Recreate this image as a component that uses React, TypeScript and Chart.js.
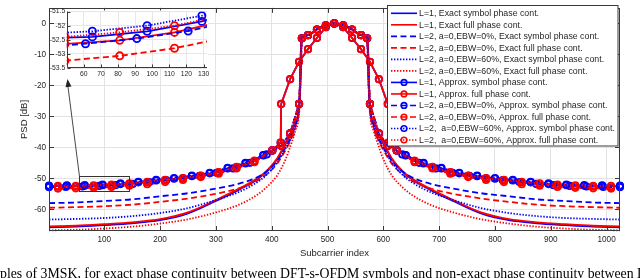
import React, { useEffect, useRef } from "react";
import { Chart, registerables } from "chart.js";

Chart.register(...registerables);
Chart.defaults.font.family = '"Liberation Sans", Arial, sans-serif';

const X_TICKS = [100, 200, 300, 400, 500, 600, 700, 800, 900, 1000];
const Y_TICKS = [-60, -50, -40, -30, -20, -10, 0];
const INSET_X_TICKS = [60, 70, 80, 90, 100, 110, 120, 130];
const INSET_Y_TICKS = [-53.5, -53, -52.5, -52, -51.5];

const LABELS = [
  "L=1, Exact symbol phase cont.",
  "L=1, Exact full phase cont.",
  "L=2, a=0,EBW=0%, Exact symbol phase cont.",
  "L=2, a=0,EBW=0%, Exact full phase cont.",
  "L=2, a=0,EBW=60%, Exact symbol phase cont.",
  "L=2, a=0,EBW=60%, Exact full phase cont.",
  "L=1, Approx. symbol phase cont.",
  "L=1, Approx. full phase cont.",
  "L=2, a=0,EBW=0%, Approx. symbol phase cont.",
  "L=2, a=0,EBW=0%, Approx. full phase cont.",
  "L=2,  a=0,EBW=60%, Approx. symbol phase cont.",
  "L=2,  a=0,EBW=60%, Approx. full phase cont.",
];

const CAPTION =
  "ples of 3MSK, for exact phase continuity between DFT-s-OFDM symbols and non-exact phase continuity between DFT-s-OFDM";

// ---------- exact curves (no markers) ----------
const EXACT_X = [
  1, 50, 100, 150, 200, 250, 300, 340, 370, 390, 410, 425, 435, 443, 448, 451,
  453, 465, 480, 495, 512, 530, 545, 560, 572,
  574, 577, 582, 590, 600, 615, 635, 655, 685, 725, 775, 825, 875, 925, 975, 1024,
];
const L1_SYM_EXACT = [
  -65.8, -65.6, -65.1, -64.5, -63.5, -61.3, -57.3, -53.8, -50.8, -48.0, -43.8, -38.8, -35.3, -31.5, -28.7, -20.5,
  -4.6, -3.8, -2.0, -0.6, 0, -0.6, -2.0, -3.8, -4.6,
  -20.5, -28.7, -31.5, -35.3, -38.8, -43.8, -48.0, -50.8, -53.8, -57.3, -61.3, -63.5, -64.5, -65.1, -65.6, -65.8,
];
const L1_FULL_EXACT = [
  -65.5, -65.3, -64.8, -64.2, -63.2, -61.0, -57.0, -53.5, -50.5, -47.8, -43.5, -38.5, -35.0, -31.2, -28.5, -20.0,
  -4.6, -3.8, -2.0, -0.6, 0, -0.6, -2.0, -3.8, -4.6,
  -20.0, -28.5, -31.2, -35.0, -38.5, -43.5, -47.8, -50.5, -53.5, -57.0, -61.0, -63.2, -64.2, -64.8, -65.3, -65.5,
];
const L2E0_SYM_EXACT = [
  -58.0, -57.8, -57.3, -56.8, -55.8, -54.8, -53.3, -51.8, -50.0, -47.9, -44.3, -40.0, -36.5, -32.5, -29.0, -21.0,
  -4.6, -3.8, -2.0, -0.6, 0, -0.6, -2.0, -3.8, -4.6,
  -21.0, -29.0, -32.5, -36.5, -40.0, -44.3, -47.9, -50.0, -51.8, -53.3, -54.8, -55.8, -56.8, -57.3, -57.8, -58.0,
];
const L2E0_FULL_EXACT = [
  -59.5, -59.3, -59.0, -58.5, -57.6, -56.5, -55.0, -53.3, -51.2, -48.8, -45.2, -40.8, -37.2, -33.2, -29.7, -21.5,
  -4.6, -3.8, -2.0, -0.6, 0, -0.6, -2.0, -3.8, -4.6,
  -21.5, -29.7, -33.2, -37.2, -40.8, -45.2, -48.8, -51.2, -53.3, -55.0, -56.5, -57.6, -58.5, -59.0, -59.3, -59.5,
];
const L2E60_SYM_EXACT = [
  -63.3, -63.1, -62.8, -62.2, -61.2, -59.6, -57.0, -54.5, -51.7, -49.0, -44.8, -40.3, -36.8, -32.8, -29.3, -21.0,
  -4.6, -3.8, -2.0, -0.6, 0, -0.6, -2.0, -3.8, -4.6,
  -21.0, -29.3, -32.8, -36.8, -40.3, -44.8, -49.0, -51.7, -54.5, -57.0, -59.6, -61.2, -62.2, -62.8, -63.1, -63.3,
];
const L2E60_FULL_EXACT = [
  -66.8, -66.6, -66.2, -65.6, -64.6, -63.2, -61.0, -58.6, -55.8, -53.0, -49.0, -43.8, -38.8, -34.3, -30.8, -22.5,
  -4.6, -3.8, -2.0, -0.6, 0, -0.6, -2.0, -3.8, -4.6,
  -22.5, -30.8, -34.3, -38.8, -43.8, -49.0, -53.0, -55.8, -58.6, -61.0, -63.2, -64.6, -65.6, -66.2, -66.6, -66.8,
];

// ---------- approximate curves (circle markers) ----------
const L1_BLUE_X = [
  1, 33, 65, 97, 129, 161, 193, 225, 257, 289, 321, 353, 385,
  401, 416, 417, 433, 449, 465, 481, 497, 512, 528, 544, 560, 576, 592, 608, 609, 624,
  640, 672, 704, 736, 768, 800, 832, 864, 896, 928, 960, 992, 1024,
];
const L1_SYM_APPROX = [
  -52.5, -52.45, -52.4, -52.2, -51.85, -51.3, -50.7, -50.1, -49.3, -48.4, -46.8, -45.2, -42.6,
  -41.0, -38.5, -26.0, -18.0, -12.4, -8.3, -4.7, -1.2, 0, -1.2, -4.7, -8.3, -12.4, -18.0, -26.0, -38.5, -41.0,
  -42.6, -45.2, -46.8, -48.4, -49.3, -50.1, -50.7, -51.3, -51.85, -52.2, -52.4, -52.45, -52.6,
];
const L1_RED_X = [
  17, 49, 81, 113, 145, 177, 209, 241, 273, 305, 337, 369,
  401, 416, 417, 433, 449, 465, 481, 497, 512, 528, 544, 560, 576, 592, 608, 609, 624,
  656, 688, 720, 752, 784, 816, 848, 880, 912, 944, 976, 1008,
];
const L1_FULL_APPROX = [
  -52.75, -52.65, -52.52, -52.24, -51.8, -51.3, -50.6, -50.0, -49.2, -48.1, -46.4, -44.5,
  -41.0, -38.5, -26.0, -18.0, -12.4, -8.3, -4.7, -1.2, 0, -1.2, -4.7, -8.3, -12.4, -18.0, -26.0, -38.5, -41.0,
  -44.5, -46.4, -48.1, -49.2, -50.0, -50.6, -51.3, -51.8, -52.24, -52.52, -52.7, -52.9,
];
const L2E0_BLUE_X = [
  1, 31, 61, 91, 121, 151, 181, 211, 241, 271, 301, 331, 361, 391,
  417, 433, 449, 454, 465, 481, 497, 512, 528, 544, 560, 571, 576, 592, 608,
  634, 664, 694, 724, 754, 784, 814, 844, 874, 904, 934, 964, 994, 1024,
];
const L2E0_SYM_APPROX = [
  -52.85, -52.8, -52.64, -52.46, -52.19, -51.8, -51.2, -50.6, -50.0, -49.2, -48.2, -46.8, -45.0, -42.3,
  -39.5, -35.5, -26.0, -4.8, -3.8, -2.0, -0.6, 0, -0.6, -2.0, -3.8, -4.8, -26.0, -35.5, -39.5,
  -42.3, -45.0, -46.8, -48.2, -49.2, -50.0, -50.6, -51.2, -51.8, -52.19, -52.46, -52.64, -52.8, -52.85,
];
const L2_RED_X = [
  17, 49, 81, 113, 145, 177, 209, 241, 273, 305, 337, 369,
  401, 417, 433, 449, 454, 465, 481, 497, 512, 528, 544, 560, 571, 576, 592, 608, 624,
  656, 688, 720, 752, 784, 816, 848, 880, 912, 944, 976, 1008,
];
const L2E0_FULL_APPROX = [
  -53.3, -53.24, -53.07, -52.8, -52.4, -51.9, -51.2, -50.5, -49.6, -48.5, -46.8, -44.8,
  -41.0, -39.5, -35.5, -26.0, -4.8, -3.8, -2.0, -0.6, 0, -0.6, -2.0, -3.8, -4.8, -26.0, -35.5, -39.5, -41.0,
  -44.8, -46.8, -48.5, -49.6, -50.5, -51.2, -51.9, -52.4, -52.8, -53.07, -53.24, -53.3,
];
const L2E60_BLUE_X = [
  1, 33, 65, 97, 129, 161, 193, 225, 257, 289, 321, 353, 385,
  401, 417, 433, 449, 454, 465, 481, 497, 512, 528, 544, 560, 571, 576, 592, 608, 624,
  640, 672, 704, 736, 768, 800, 832, 864, 896, 928, 960, 992, 1024,
];
const L2E60_SYM_APPROX = [
  -52.35, -52.3, -52.2, -52.0, -51.65, -51.1, -50.5, -49.9, -49.1, -48.2, -46.6, -45.0, -42.5,
  -41.0, -39.5, -35.5, -26.0, -4.8, -3.8, -2.0, -0.6, 0, -0.6, -2.0, -3.8, -4.8, -26.0, -35.5, -39.5, -41.0,
  -42.5, -45.0, -46.6, -48.2, -49.1, -49.9, -50.5, -51.1, -51.65, -52.0, -52.2, -52.3, -52.35,
];
const L2E60_FULL_APPROX = [
  -52.45, -52.4, -52.24, -52.0, -51.6, -51.1, -50.5, -49.9, -49.1, -48.0, -46.3, -44.3,
  -41.0, -39.5, -35.5, -26.0, -4.8, -3.8, -2.0, -0.6, 0, -0.6, -2.0, -3.8, -4.8, -26.0, -35.5, -39.5, -41.0,
  -44.3, -46.3, -48.0, -49.1, -49.9, -50.5, -51.1, -51.6, -52.0, -52.24, -52.4, -52.45,
];

// zoom rectangle (data coordinates) shown in the main axes
const ZOOM_X = [54, 143];
const ZOOM_Y = [-54.4, -49.4];

const BLUE = "#0000ff";
const RED = "#ff0000";
const SOLID: number[] = [];
const DASHED = [6, 3.5];
const DOTTED = [1.4, 1.6];
const AXIS = "#3a3a3a";
const TEXT = "#262626";

type Series = { xs: number[]; ys: number[]; color: string; dash: number[]; marker: boolean; smooth: boolean };

const SERIES: Series[] = [
  { xs: EXACT_X, ys: L1_SYM_EXACT, color: BLUE, dash: SOLID, marker: false, smooth: true },
  { xs: EXACT_X, ys: L1_FULL_EXACT, color: RED, dash: SOLID, marker: false, smooth: true },
  { xs: EXACT_X, ys: L2E0_SYM_EXACT, color: BLUE, dash: DASHED, marker: false, smooth: true },
  { xs: EXACT_X, ys: L2E0_FULL_EXACT, color: RED, dash: DASHED, marker: false, smooth: true },
  { xs: EXACT_X, ys: L2E60_SYM_EXACT, color: BLUE, dash: DOTTED, marker: false, smooth: true },
  { xs: EXACT_X, ys: L2E60_FULL_EXACT, color: RED, dash: DOTTED, marker: false, smooth: true },
  { xs: L1_BLUE_X, ys: L1_SYM_APPROX, color: BLUE, dash: SOLID, marker: true, smooth: false },
  { xs: L1_RED_X, ys: L1_FULL_APPROX, color: RED, dash: SOLID, marker: true, smooth: false },
  { xs: L2E0_BLUE_X, ys: L2E0_SYM_APPROX, color: BLUE, dash: DASHED, marker: true, smooth: false },
  { xs: L2_RED_X, ys: L2E0_FULL_APPROX, color: RED, dash: DASHED, marker: true, smooth: false },
  { xs: L2E60_BLUE_X, ys: L2E60_SYM_APPROX, color: BLUE, dash: DOTTED, marker: true, smooth: false },
  { xs: L2_RED_X, ys: L2E60_FULL_APPROX, color: RED, dash: DOTTED, marker: true, smooth: false },
];

function makeDatasets(radius: number, width: number, markerWidth: number, clip: any) {
  return SERIES.map((s, i) => ({
    label: LABELS[i],
    data: s.xs.map((x, j) => ({ x, y: s.ys[j] })),
    borderColor: s.color,
    backgroundColor: s.color,
    borderWidth: width,
    borderDash: s.dash,
    pointRadius: s.marker ? radius : 0,
    pointHoverRadius: 0,
    pointStyle: "circle",
    pointBorderColor: s.color,
    pointBackgroundColor: "rgba(0,0,0,0)",
    pointBorderWidth: markerWidth,
    cubicInterpolationMode: s.smooth ? "monotone" : "default",
    tension: 0,
    fill: false,
    order: SERIES.length - i,
    clip,
  }));
}

const mainDecor = {
  id: "mainDecor",
  afterDatasetsDraw(chart: any) {
    const { ctx, chartArea, scales } = chart;
    const { left, right, top, bottom } = chartArea;
    ctx.save();
    ctx.setLineDash([]);
    ctx.strokeStyle = AXIS;
    ctx.lineWidth = 1;
    ctx.strokeRect(Math.round(left) + 0.5, Math.round(top) + 0.5, Math.round(right - left) - 1, Math.round(bottom - top) - 1);
    ctx.beginPath();
    X_TICKS.forEach((v) => {
      const px = Math.round(scales.x.getPixelForValue(v)) + 0.5;
      ctx.moveTo(px, bottom);
      ctx.lineTo(px, bottom - 5);
      ctx.moveTo(px, top);
      ctx.lineTo(px, top + 5);
    });
    Y_TICKS.forEach((v) => {
      const py = Math.round(scales.y.getPixelForValue(v)) + 0.5;
      ctx.moveTo(left, py);
      ctx.lineTo(left + 5, py);
      ctx.moveTo(right, py);
      ctx.lineTo(right - 5, py);
    });
    ctx.stroke();
    // zoom rectangle
    const rx0 = scales.x.getPixelForValue(ZOOM_X[0]);
    const rx1 = scales.x.getPixelForValue(ZOOM_X[1]);
    const ry0 = scales.y.getPixelForValue(ZOOM_Y[1]);
    const ry1 = scales.y.getPixelForValue(ZOOM_Y[0]);
    ctx.strokeStyle = "#333";
    ctx.lineWidth = 1;
    ctx.strokeRect(Math.round(rx0) + 0.5, Math.round(ry0) + 0.5, Math.round(rx1 - rx0), Math.round(ry1 - ry0));
    // arrow to inset
    const tipX = 67.5;
    const tipY = 79;
    const sx = Math.round(rx0) + 0.5;
    const sy = Math.round(ry0) + 0.5;
    ctx.beginPath();
    ctx.lineWidth = 0.9;
    ctx.moveTo(sx, sy);
    ctx.lineTo(tipX, tipY + 4);
    ctx.stroke();
    const ang = Math.atan2(tipY - sy, tipX - sx);
    const L = 8;
    const W = 3;
    const bx = tipX - L * Math.cos(ang);
    const by = tipY - L * Math.sin(ang);
    ctx.beginPath();
    ctx.fillStyle = "#222";
    ctx.moveTo(tipX, tipY);
    ctx.lineTo(bx + W * Math.sin(ang), by - W * Math.cos(ang));
    ctx.lineTo(bx - W * Math.sin(ang), by + W * Math.cos(ang));
    ctx.closePath();
    ctx.fill();
    ctx.restore();
  },
  afterDraw(chart: any) {
    const ctx = chart.ctx;
    const x0 = 387.5;
    const y0 = 5.5;
    const w = 230.5;
    const h = 140.5;
    ctx.save();
    ctx.fillStyle = "#fff";
    ctx.fillRect(x0, y0, w, h);
    ctx.strokeStyle = AXIS;
    ctx.lineWidth = 1;
    ctx.setLineDash([]);
    ctx.strokeRect(x0, y0, w, h);
    ctx.font = '8.8px "Liberation Sans", Arial, sans-serif';
    ctx.textBaseline = "middle";
    ctx.textAlign = "left";
    SERIES.forEach((s, i) => {
      const y = 13.3 + i * 11.52;
      ctx.beginPath();
      ctx.setLineDash(s.dash);
      ctx.strokeStyle = s.color;
      ctx.lineWidth = 1.6;
      ctx.moveTo(391, y);
      ctx.lineTo(417, y);
      ctx.stroke();
      ctx.setLineDash([]);
      if (s.marker) {
        ctx.beginPath();
        ctx.lineWidth = 1.6;
        ctx.arc(404, y, 2.8, 0, Math.PI * 2);
        ctx.stroke();
      }
      ctx.fillStyle = TEXT;
      ctx.fillText(LABELS[i], 419, y + 0.5);
    });
    ctx.restore();
  },
};

const insetDecor = {
  id: "insetDecor",
  beforeDraw(chart: any) {
    const { ctx, chartArea } = chart;
    ctx.save();
    ctx.fillStyle = "#fff";
    ctx.fillRect(chartArea.left, chartArea.top - 1, chartArea.right - chartArea.left + 1, chartArea.bottom - chartArea.top + 1);
    ctx.restore();
  },
  afterDatasetsDraw(chart: any) {
    const { ctx, chartArea, scales } = chart;
    const { left, right, top, bottom } = chartArea;
    ctx.save();
    ctx.setLineDash([]);
    ctx.strokeStyle = AXIS;
    ctx.lineWidth = 1;
    ctx.beginPath();
    const lx = Math.round(left) + 0.5;
    const by = Math.round(bottom) - 0.5;
    ctx.moveTo(lx, top);
    ctx.lineTo(lx, by);
    ctx.lineTo(right, by);
    INSET_X_TICKS.forEach((v) => {
      const px = Math.round(scales.x.getPixelForValue(v)) + 0.5;
      ctx.moveTo(px, by);
      ctx.lineTo(px, by - 3);
    });
    INSET_Y_TICKS.forEach((v) => {
      const py = Math.round(scales.y.getPixelForValue(v)) + 0.5;
      ctx.moveTo(lx, py);
      ctx.lineTo(lx + 3, py);
    });
    ctx.stroke();
    ctx.restore();
  },
};

export default function App() {
  const mainRef = useRef<HTMLCanvasElement | null>(null);
  const insetRef = useRef<HTMLCanvasElement | null>(null);

  useEffect(() => {
    const main = new Chart(mainRef.current as HTMLCanvasElement, {
      type: "line",
      data: { datasets: makeDatasets(3.2, 1.8, 1.8, 4) as any },
      options: {
        responsive: false,
        animation: false,
        events: [],
        layout: { padding: { top: 2, right: 20, left: 0, bottom: 0 } },
        plugins: { legend: { display: false }, tooltip: { enabled: false } },
        scales: {
          x: {
            type: "linear",
            min: 1,
            max: 1024,
            afterBuildTicks: (s: any) => {
              s.ticks = X_TICKS.map((v) => ({ value: v }));
            },
            afterFit: (s: any) => {
              s.height = 47;
            },
            grid: { color: "#e3e3e3", drawTicks: false, lineWidth: 1 },
            border: { display: false },
            ticks: {
              padding: 4,
              autoSkip: false,
              maxRotation: 0,
              color: TEXT,
              font: { size: 8.2 },
              callback: (v: any) => String(v),
            },
            title: {
              display: true,
              text: "Subcarrier index",
              color: TEXT,
              font: { size: 9.5 },
              padding: { top: 0, bottom: 19 },
            },
          },
          y: {
            type: "linear",
            min: -67,
            max: 5,
            afterBuildTicks: (s: any) => {
              s.ticks = Y_TICKS.map((v) => ({ value: v }));
            },
            afterFit: (s: any) => {
              s.width = 49;
            },
            grid: { color: "#e3e3e3", drawTicks: false, lineWidth: 1 },
            border: { display: false },
            ticks: {
              padding: 3,
              color: TEXT,
              font: { size: 8.2 },
              callback: (v: any) => String(v),
            },
            title: {
              display: true,
              text: "PSD [dB]",
              color: TEXT,
              font: { size: 9.5 },
              padding: { top: 19, bottom: 0 },
            },
          },
        },
      } as any,
      plugins: [mainDecor],
    });

    const inset = new Chart(insetRef.current as HTMLCanvasElement, {
      type: "line",
      data: { datasets: makeDatasets(3.6, 1.8, 1.8, 0) as any },
      options: {
        responsive: false,
        animation: false,
        events: [],
        layout: { padding: { top: 11.5, right: 8, left: 0, bottom: 0 } },
        plugins: { legend: { display: false }, tooltip: { enabled: false } },
        scales: {
          x: {
            type: "linear",
            min: 50,
            max: 132,
            afterBuildTicks: (s: any) => {
              s.ticks = INSET_X_TICKS.map((v) => ({ value: v }));
            },
            afterFit: (s: any) => {
              s.height = 17;
            },
            grid: { color: "#e6e6e6", drawTicks: false, lineWidth: 1 },
            border: { display: false },
            ticks: {
              padding: 1.8,
              autoSkip: false,
              maxRotation: 0,
              color: TEXT,
              font: { size: 6.8 },
              callback: (v: any) => String(v),
            },
          },
          y: {
            type: "linear",
            min: -53.5,
            max: -51.5,
            afterBuildTicks: (s: any) => {
              s.ticks = INSET_Y_TICKS.map((v) => ({ value: v }));
            },
            afterFit: (s: any) => {
              s.width = 66.7;
            },
            grid: { color: "#e6e6e6", drawTicks: false, lineWidth: 1 },
            border: { display: false },
            ticks: {
              padding: 1.5,
              color: TEXT,
              font: { size: 6.8 },
              callback: (v: any) => String(v),
            },
          },
        },
      } as any,
      plugins: [insetDecor],
    });

    return () => {
      main.destroy();
      inset.destroy();
    };
  }, []);

  return (
    <div
      style={{
        position: "fixed",
        left: 0,
        top: 0,
        width: 640,
        height: 278,
        background: "#fff",
        overflow: "hidden",
      }}
    >
      <canvas
        ref={mainRef}
        width={640}
        height={278}
        style={{ position: "absolute", left: 0, top: 0, width: 640, height: 278 }}
      />
      <canvas
        ref={insetRef}
        width={215}
        height={85}
        style={{ position: "absolute", left: 0, top: 0, width: 215, height: 85 }}
      />
      <div
        style={{
          position: "absolute",
          left: 0,
          top: 267,
          width: 640,
          whiteSpace: "pre",
          overflow: "hidden",
          fontFamily: '"Liberation Serif", "Times New Roman", serif',
          fontSize: 13.8,
          lineHeight: "14px",
          color: "#000",
        }}
      >
        {CAPTION}
      </div>
    </div>
  );
}
